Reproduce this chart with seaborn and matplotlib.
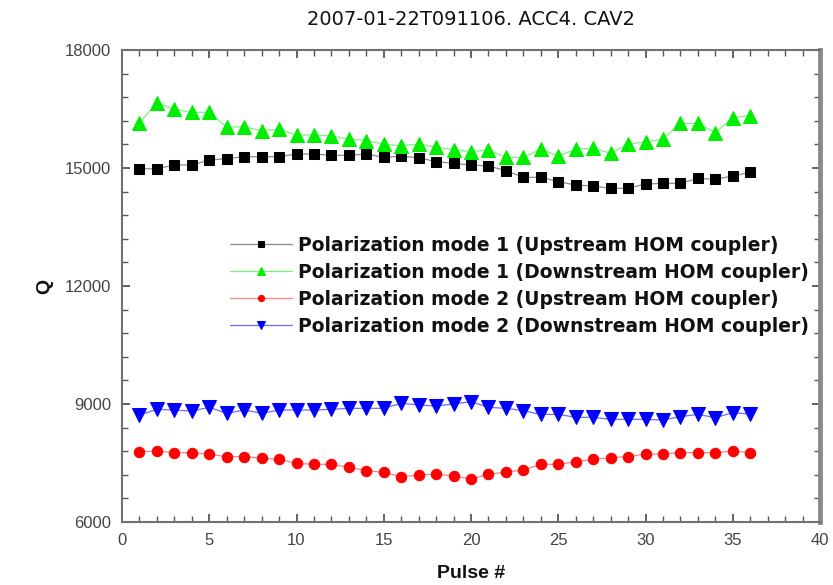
import matplotlib
matplotlib.use("Agg")
import matplotlib.pyplot as plt
from matplotlib.ticker import MultipleLocator
import numpy as np
import pandas as pd
import seaborn as sns

# Pulse numbers and measured Q values for each polarization mode / coupler
pulses = list(range(1, 37))

q_mode1_upstream = [14980, 14980, 15076, 15076, 15203, 15237, 15288, 15288, 15288, 15356,
                    15356, 15322, 15322, 15356, 15271, 15297, 15263, 15161, 15119, 15076,
                    15051, 14932, 14763, 14763, 14653, 14568, 14542, 14483, 14483, 14593,
                    14610, 14610, 14737, 14712, 14797, 14890]

q_mode1_downstream = [16150, 16660, 16490, 16415, 16415, 16035, 16050, 15950, 15985, 15840,
                      15840, 15815, 15735, 15695, 15610, 15560, 15610, 15525, 15470, 15415,
                      15460, 15270, 15270, 15480, 15305, 15480, 15500, 15375, 15610, 15660,
                      15730, 16135, 16135, 15900, 16280, 16330]

q_mode2_upstream = [7788, 7805, 7763, 7763, 7721, 7661, 7661, 7619, 7594, 7492,
                    7466, 7466, 7390, 7305, 7264, 7153, 7195, 7220, 7170, 7093,
                    7213, 7271, 7322, 7466, 7466, 7533, 7594, 7636, 7661, 7729,
                    7729, 7763, 7763, 7763, 7805, 7763]

q_mode2_downstream = [8720, 8865, 8847, 8822, 8915, 8763, 8847, 8763, 8847, 8847,
                      8847, 8865, 8890, 8890, 8890, 9017, 8975, 8949, 9000, 9059,
                      8915, 8890, 8830, 8737, 8737, 8661, 8661, 8610, 8610, 8610,
                      8593, 8678, 8737, 8652, 8780, 8746]

labels = ["Polarization mode 1 (Upstream HOM coupler)",
          "Polarization mode 1 (Downstream HOM coupler)",
          "Polarization mode 2 (Upstream HOM coupler)",
          "Polarization mode 2 (Downstream HOM coupler)"]

y_ticks = [6000, 9000, 12000, 15000, 18000]
x_ticks = [0, 5, 10, 15, 20, 25, 30, 35, 40]

series = [q_mode1_upstream, q_mode1_downstream, q_mode2_upstream, q_mode2_downstream]
marker_colors = ["#000000", "#00ee00", "#ff0000", "#0000ff"]
line_colors = ["#8a8a8a", "#7cf57c", "#ff8080", "#6b6bff"]
markers = ["s", "^", "o", "v"]
msizes = [7.5, 9.5, 7.5, 9.5]

sns.set_theme(style="white")
plt.rcParams["font.family"] = ["Liberation Sans", "DejaVu Sans"]

fig = plt.figure(figsize=(8.33, 5.85), dpi=100)
ax = fig.add_axes([122 / 833, 1 - 522 / 585, 698 / 833, 472 / 585])

frames = []
for vals, lab in zip(series, labels):
    frames.append(pd.DataFrame({"Pulse": pulses, "Q": vals, "series": lab}))
df = pd.concat(frames, ignore_index=True)

for lab, mc, lc, mk, ms in zip(labels, marker_colors, line_colors, markers, msizes):
    sub = df[df["series"] == lab]
    sns.lineplot(data=sub, x="Pulse", y="Q", ax=ax, color=lc, linewidth=0.9,
                 marker=mk, markersize=ms, markerfacecolor=mc, markeredgecolor=mc,
                 label=lab, sort=False)

ax.set_xlim(0, 40)
ax.set_ylim(6000, 18000)
ax.set_xticks(x_ticks)
ax.set_yticks(y_ticks)
ax.xaxis.set_minor_locator(MultipleLocator(1))
ax.yaxis.set_minor_locator(MultipleLocator(600))
ax.set_xticklabels([str(t) for t in x_ticks])
ax.set_yticklabels([str(t) for t in y_ticks])

tick_family = ["Liberation Sans Narrow", "Liberation Sans", "DejaVu Sans"]
for t in ax.get_xticklabels() + ax.get_yticklabels():
    t.set_fontfamily(tick_family)
    t.set_fontsize(12)
    t.set_color("#444444")

ax.tick_params(which="both", direction="in", top=True, right=True, bottom=True, left=True,
               color="#555555")
ax.tick_params(which="major", length=6, width=1.3, pad=8)
ax.tick_params(which="minor", length=4, width=1.0)

for side, sp in ax.spines.items():
    sp.set_color("#707070")
    sp.set_linewidth(1.5)
ax.spines["right"].set_linewidth(3.5)
ax.spines["right"].set_color("#8a8a8a")

ax.set_xlabel("Pulse #", fontsize=14, fontweight="bold", color="#111111", labelpad=12)
ax.set_ylabel("Q", fontsize=14, fontweight="bold", color="#111111", labelpad=8)
ax.set_title("2007-01-22T091106. ACC4. CAV2", fontsize=14,
             family=["DejaVu Sans"], color="#111111", pad=18)

leg = ax.legend(loc="upper right", bbox_to_anchor=(0.997, 0.626), frameon=False,
                prop=dict(family=["DejaVu Sans"], size=13.5, weight="bold"),
                markerscale=0.6, handlelength=3.3, handletextpad=0.3,
                labelspacing=0.42, borderpad=0)
for txt in leg.get_texts():
    txt.set_color("#111111")

fig.savefig("out.png", dpi=100)
